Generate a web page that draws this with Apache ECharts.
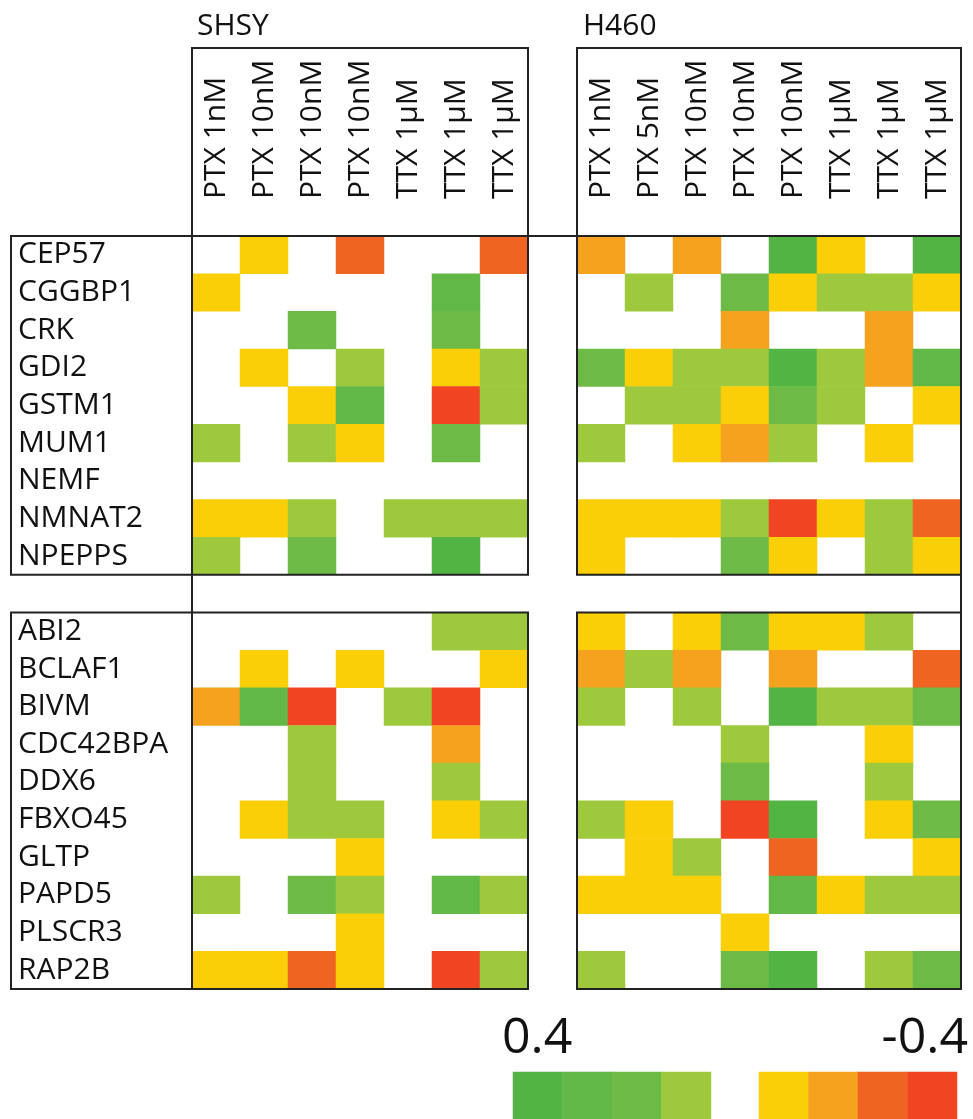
<!DOCTYPE html>
<html>
<head>
<meta charset="utf-8">
<title>SHSY / H460</title>
<script src="https://cdn.jsdelivr.net/npm/echarts@6/dist/echarts.min.js"></script>
<style>
html, body { margin: 0; padding: 0; background: #fff; }
#chart { width: 973px; height: 1119px; }
</style>
</head>
<body>
<div id="chart"></div>
<script>
// column labels
var shsyCols = ['PTX 1nM', 'PTX 10nM', 'PTX 10nM', 'PTX 10nM', 'TTX 1μM', 'TTX 1μM', 'TTX 1μM'];
var h460Cols = ['PTX 1nM', 'PTX 5nM', 'PTX 10nM', 'PTX 10nM', 'PTX 10nM', 'TTX 1μM', 'TTX 1μM', 'TTX 1μM'];

// row labels
var genesTop = ['CEP57', 'CGGBP1', 'CRK', 'GDI2', 'GSTM1', 'MUM1', 'NEMF', 'NMNAT2', 'NPEPPS'];
var genesBottom = ['ABI2', 'BCLAF1', 'BIVM', 'CDC42BPA', 'DDX6', 'FBXO45', 'GLTP', 'PAPD5', 'PLSCR3', 'RAP2B'];

// values (null = no change)
var shsyTop = [
    [null, -0.1, null, -0.3, null, null, -0.3],
    [-0.1, null, null, null, null, 0.3, null],
    [null, null, 0.2, null, null, 0.2, null],
    [null, -0.1, null, 0.1, null, -0.1, 0.1],
    [null, null, -0.1, 0.3, null, -0.4, 0.1],
    [0.1, null, 0.1, -0.1, null, 0.2, null],
    [null, null, null, null, null, null, null],
    [-0.1, -0.1, 0.1, null, 0.1, 0.1, 0.1],
    [0.1, null, 0.2, null, null, 0.4, null]
];
var shsyBottom = [
    [null, null, null, null, null, 0.1, 0.1],
    [null, -0.1, null, -0.1, null, null, -0.1],
    [-0.2, 0.3, -0.4, null, 0.1, -0.4, null],
    [null, null, 0.1, null, null, -0.2, null],
    [null, null, 0.1, null, null, 0.1, null],
    [null, -0.1, 0.1, 0.1, null, -0.1, 0.1],
    [null, null, null, -0.1, null, null, null],
    [0.1, null, 0.2, 0.1, null, 0.3, 0.1],
    [null, null, null, -0.1, null, null, null],
    [-0.1, -0.1, -0.3, -0.1, null, -0.4, 0.1]
];
var h460Top = [
    [-0.2, null, -0.2, null, 0.4, -0.1, null, 0.4],
    [null, 0.1, null, 0.2, -0.1, 0.1, 0.1, -0.1],
    [null, null, null, -0.2, null, null, -0.2, null],
    [0.2, -0.1, 0.1, 0.1, 0.4, 0.1, -0.2, 0.3],
    [null, 0.1, 0.1, -0.1, 0.2, 0.1, null, -0.1],
    [0.1, null, -0.1, -0.2, 0.1, null, -0.1, null],
    [null, null, null, null, null, null, null, null],
    [-0.1, -0.1, -0.1, 0.1, -0.4, -0.1, 0.1, -0.3],
    [-0.1, null, null, 0.2, -0.1, null, 0.1, -0.1]
];
var h460Bottom = [
    [-0.1, null, -0.1, 0.2, -0.1, -0.1, 0.1, null],
    [-0.2, 0.1, -0.2, null, -0.2, null, null, -0.3],
    [0.1, null, 0.1, null, 0.4, 0.1, 0.1, 0.2],
    [null, null, null, 0.1, null, null, -0.1, null],
    [null, null, null, 0.2, null, null, 0.1, null],
    [0.1, -0.1, null, -0.4, 0.4, null, -0.1, 0.2],
    [null, -0.1, 0.1, null, -0.3, null, null, -0.1],
    [-0.1, -0.1, -0.1, null, 0.3, -0.1, 0.1, 0.1],
    [null, null, null, -0.1, null, null, null, null],
    [0.1, null, null, 0.2, 0.4, null, 0.1, 0.2]
];

// colour key
var legendGreen = [0.4, 0.3, 0.2, 0.1];
var legendWarm = [-0.1, -0.2, -0.3, -0.4];
var legendLabels = ['0.4', '-0.4'];

var FONT = '"Open Sans", "Noto Sans", sans-serif';
var LINE = '#222';

// layout
var ROW = 753 / 20;
var COL = 48;
var NAME_L = 11, SHSY_L = 192, H460_L = 577;
var HEAD_T = 48, TOP_T = 236;
var BOT_T = TOP_T + 10 * ROW;

var myChart = echarts.init(document.getElementById('chart'));

var grids = [];
var xAxes = [];
var yAxes = [];
var series = [];

function boxGrid(left, top, width, height) {
    var i = grids.length;
    grids.push({ left: left, top: top, width: width, height: height, show: true,
        borderColor: LINE, borderWidth: 2, backgroundColor: 'transparent', z: 5 });
    xAxes.push({ type: 'value', gridIndex: i, show: false });
    yAxes.push({ type: 'value', gridIndex: i, show: false });
}

function matrixToData(m) {
    var out = [];
    for (var r = 0; r < m.length; r++) {
        for (var c = 0; c < m[r].length; c++) {
            if (m[r][c] !== null) out.push([c, r, m[r][c]]);
        }
    }
    return out;
}

function heatGrid(left, top, cols, genes, matrix, showCols, showGenes, border) {
    var i = grids.length;
    grids.push({ left: left, top: top, width: cols.length * COL, height: genes.length * ROW,
        show: border, borderColor: LINE, borderWidth: 2, backgroundColor: 'transparent', z: 5 });
    xAxes.push({
        type: 'category', gridIndex: i, data: cols, position: 'top',
        axisLine: { show: false }, axisTick: { show: false }, splitLine: { show: false },
        // top axis: ECharts flips the sign, -90 reads bottom to top
        axisLabel: { show: showCols, interval: 0, rotate: -90, margin: 37,
            fontSize: 30, fontFamily: FONT, color: '#111' }
    });
    yAxes.push({
        type: 'category', gridIndex: i, data: genes, inverse: true,
        axisLine: { show: false }, axisTick: { show: false }, splitLine: { show: false },
        axisLabel: { show: showGenes, interval: 0, align: 'left', margin: SHSY_L - 18,
            fontSize: 30, fontFamily: FONT, color: '#111' }
    });
    series.push({
        type: 'heatmap', xAxisIndex: i, yAxisIndex: i,
        data: matrixToData(matrix),
        emphasis: { disabled: true }
    });
}

// name boxes and header boxes
boxGrid(NAME_L, TOP_T, SHSY_L - NAME_L, 9 * ROW);
boxGrid(NAME_L, BOT_T, SHSY_L - NAME_L, 10 * ROW);
boxGrid(SHSY_L, HEAD_T, shsyCols.length * COL, TOP_T - HEAD_T);
boxGrid(H460_L, HEAD_T, h460Cols.length * COL, TOP_T - HEAD_T);

// heatmaps
heatGrid(SHSY_L, TOP_T, shsyCols, genesTop, shsyTop, true, true, true);
heatGrid(SHSY_L, BOT_T, shsyCols, genesBottom, shsyBottom, false, true, true);
heatGrid(H460_L, TOP_T, h460Cols, genesTop, h460Top, true, false, true);
heatGrid(H460_L, BOT_T, h460Cols, genesBottom, h460Bottom, false, false, true);

// colour key bars
heatGrid(513, 1072, ['a', 'b', 'c', 'd'], [''], [legendGreen], false, false, false);
heatGrid(759, 1072, ['a', 'b', 'c', 'd'], [''], [legendWarm], false, false, false);
grids[8].width = 198; grids[8].height = 60;
grids[9].width = 198; grids[9].height = 60;

var SHSY_R = SHSY_L + shsyCols.length * COL;
var H460_R = H460_L + h460Cols.length * COL;

function txt(x, y, s, size, align) {
    return { type: 'text', x: x, y: y, z: 10,
        style: { text: s, fontSize: size, fontFamily: FONT, fill: '#111',
            align: align, verticalAlign: 'middle' } };
}
function ln(x1, y1, x2, y2) {
    return { type: 'line', z: 10, shape: { x1: x1, y1: y1, x2: x2, y2: y2 },
        style: { stroke: LINE, lineWidth: 2 } };
}

var option = {
    backgroundColor: '#fff',
    animation: false,
    grid: grids,
    xAxis: xAxes,
    yAxis: yAxes,
    visualMap: {
        type: 'piecewise', show: false, dimension: 2,
        pieces: [
            { min: 0.35, color: '#52B443' },
            { min: 0.25, max: 0.35, color: '#62B846' },
            { min: 0.15, max: 0.25, color: '#6DBA46' },
            { min: 0, max: 0.15, color: '#9FC93C' },
            { min: -0.15, max: 0, color: '#FBCF07' },
            { min: -0.25, max: -0.15, color: '#F5A21F' },
            { min: -0.35, max: -0.25, color: '#EE6420' },
            { max: -0.35, color: '#F04423' }
        ]
    },
    graphic: [
        txt(197, 26, 'SHSY', 30, 'left'),
        txt(583, 26, 'H460', 30, 'left'),
        txt(502, 1039, legendLabels[0], 50, 'left'),
        txt(968, 1039, legendLabels[1], 50, 'right'),
        ln(SHSY_R, TOP_T, H460_L, TOP_T),
        ln(SHSY_L, TOP_T + 9 * ROW, SHSY_L, BOT_T),
        ln(H460_R, TOP_T + 9 * ROW, H460_R, BOT_T)
    ],
    series: series
};

myChart.setOption(option);
</script>
</body>
</html>
